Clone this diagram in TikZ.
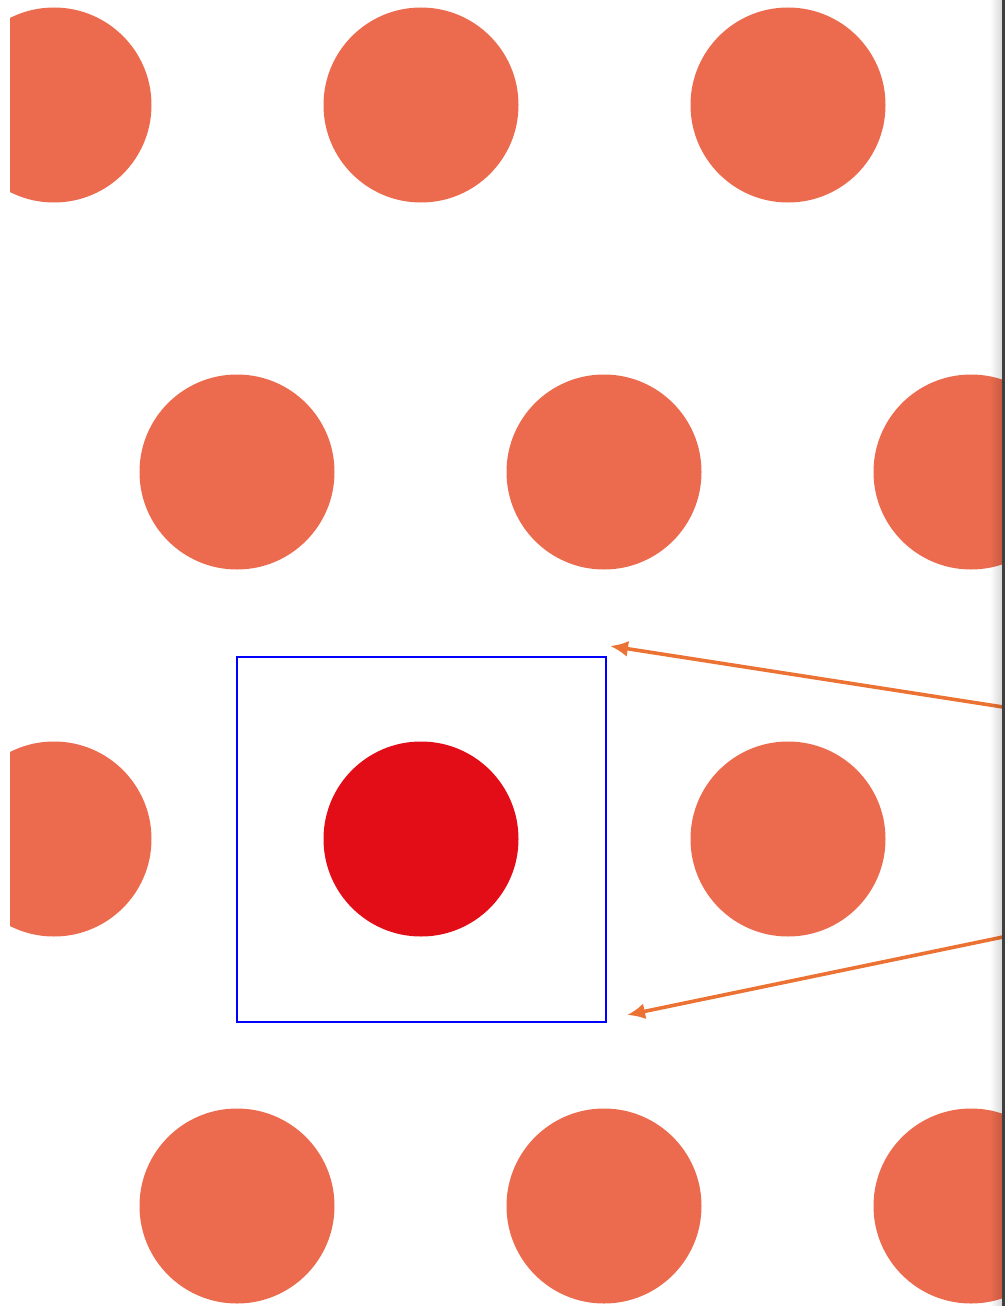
\documentclass[tikz,border=0pt]{standalone}
\usetikzlibrary{arrows.meta}
\definecolor{dotc}{HTML}{EC6B4E}
\definecolor{redc}{HTML}{E20D17}
\definecolor{arrc}{HTML}{EB7232}
\begin{document}
\begin{tikzpicture}[x=1pt,y=-1pt,
  dot/.style={circle,fill=dotc,draw=none,minimum size=195pt,inner sep=0pt},
  reddot/.style={circle,fill=redc,draw=none,minimum size=195pt,inner sep=0pt},
  cell/.style={draw=blue,line width=2pt},
  pointer/.style={draw=arrc,line width=3.6pt,-{Latex[length=18pt,width=16pt]}}]
\useasboundingbox (0,0) rectangle (1005,1306);
\begin{scope}
\clip (10,0) rectangle (1002,1306);
\node[dot] (a1) at (54,105) {};
\node[dot] (a2) at (421,105) {};
\node[dot] (a3) at (788,105) {};
\node[dot] (b1) at (237,472) {};
\node[dot] (b2) at (604,472) {};
\node[dot] (b3) at (971,472) {};
\node[dot] (c1) at (54,839) {};
\node[reddot] (c2) at (421,839) {};
\node[dot] (c3) at (788,839) {};
\node[dot] (d1) at (237,1206) {};
\node[dot] (d2) at (604,1206) {};
\node[dot] (d3) at (971,1206) {};
\end{scope}
\draw[cell] (237,657) rectangle (606,1022);
\coordinate (s1) at (1003,707);
\coordinate (t1) at (610,646);
\coordinate (s2) at (1003,937);
\coordinate (t2) at (627,1015);
\draw[pointer] (s1) -- (t1);
\draw[pointer] (s2) -- (t2);
\foreach \k in {0,...,11}
  \fill[black,opacity={0.012*\k+0.005}] ({990+\k},0) rectangle ({991+\k},1306);
\fill[black!75] (1002,0) rectangle (1005,1306);
\end{tikzpicture}
\end{document}
